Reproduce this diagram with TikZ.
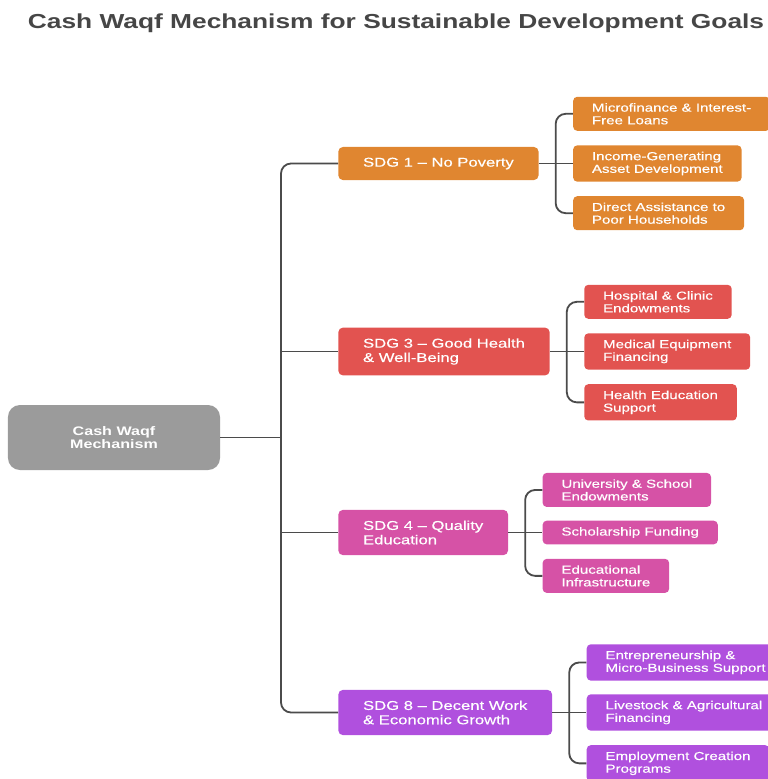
\documentclass[tikz,border=0pt]{standalone}
\usepackage{fontspec}
\setmainfont[FakeStretch=1.3, FakeBold=0.4, BoldFeatures={FakeBold=0}]{Liberation Sans}
\usepackage{xcolor}
\usetikzlibrary{positioning}

\definecolor{rootgray}{RGB}{155,155,155}
\definecolor{sdgone}{RGB}{224,134,48}
\definecolor{sdgthree}{RGB}{226,83,80}
\definecolor{sdgfour}{RGB}{214,82,166}
\definecolor{sdgeight}{RGB}{176,80,222}
\definecolor{linkgray}{RGB}{75,75,75}
\definecolor{titlegray}{RGB}{70,70,70}

\begin{document}
\begin{tikzpicture}[
    x=0.025cm, y=-0.025cm,
    root/.style={fill=rootgray, text=white, font=\bfseries\fontsize{8.8}{9.5}\selectfont, align=center, rounded corners=0.3cm, minimum width=5.3cm, minimum height=1.625cm},
    goal/.style={text=white, font=\fontsize{9.1}{10.2}\selectfont, align=left, rounded corners=0.12cm, inner xsep=0.62cm, inner ysep=0.27cm, anchor=west},
    item/.style={text=white, font=\fontsize{8.25}{9}\selectfont, align=left, rounded corners=0.1cm, inner xsep=0.47cm, inner ysep=0.16cm},
    link/.style={draw=linkgray, line width=1.3pt, rounded corners=0.25cm},
]
    \useasboundingbox (0,0) rectangle (768,779);

    % Title
    \node[font=\bfseries\fontsize{14.4}{17}\selectfont, text=titlegray] (title) at (396,23) {Cash Waqf Mechanism for Sustainable Development Goals};

    % Root
    \node[root] (root) at (114,437.5) {Cash Waqf\\Mechanism};
    \coordinate (trunk) at (281,437.5);

    % Goals
    \node[goal, fill=sdgone] (sdg1) at (338,163.5) {SDG 1 -- No Poverty};
    \node[goal, fill=sdgthree] (sdg3) at (338,351.5) {SDG 3 -- Good Health\\\& Well-Being};
    \node[goal, fill=sdgfour] (sdg4) at (338,532.5) {SDG 4 -- Quality\\Education};
    \node[goal, fill=sdgeight] (sdg8) at (338,712.5) {SDG 8 -- Decent Work\\\& Economic Growth};

    % SDG 1 items
    \node[item, fill=sdgone, right=0.85cm of sdg1] (pov2) {Income-Generating\\Asset Development};
    \node[item, fill=sdgone, above=0.35cm of pov2.north west, anchor=south west] (pov1) {Microfinance \& Interest-\\Free Loans};
    \node[item, fill=sdgone, below=0.35cm of pov2.south west, anchor=north west] (pov3) {Direct Assistance to\\Poor Households};

    % SDG 3 items
    \node[item, fill=sdgthree, right=0.85cm of sdg3] (hea2) {Medical Equipment\\Financing};
    \node[item, fill=sdgthree, above=0.35cm of hea2.north west, anchor=south west] (hea1) {Hospital \& Clinic\\Endowments};
    \node[item, fill=sdgthree, below=0.35cm of hea2.south west, anchor=north west] (hea3) {Health Education\\Support};

    % SDG 4 items
    \node[item, fill=sdgfour, right=0.85cm of sdg4] (edu2) {Scholarship Funding};
    \node[item, fill=sdgfour, above=0.33cm of edu2.north west, anchor=south west] (edu1) {University \& School\\Endowments};
    \node[item, fill=sdgfour, below=0.35cm of edu2.south west, anchor=north west] (edu3) {Educational\\Infrastructure};

    % SDG 8 items
    \node[item, fill=sdgeight, right=0.85cm of sdg8] (wrk2) {Livestock \& Agricultural\\Financing};
    \node[item, fill=sdgeight, above=0.33cm of wrk2.north west, anchor=south west] (wrk1) {Entrepreneurship \&\\Micro-Business Support};
    \node[item, fill=sdgeight, below=0.35cm of wrk2.south west, anchor=north west] (wrk3) {Employment Creation\\Programs};

    % Forks
    \coordinate[right=0.42cm of sdg1] (fork1);
    \coordinate[right=0.42cm of sdg3] (fork3);
    \coordinate[right=0.42cm of sdg4] (fork4);
    \coordinate[right=0.42cm of sdg8] (fork8);

    % Root to goals
    \draw[link] (root) -- (trunk);
    \draw[link] (sdg1.west) -| (trunk) |- (sdg8.west);
    \draw[link] (trunk |- sdg3.west) -- (sdg3.west);
    \draw[link] (trunk |- sdg4.west) -- (sdg4.west);

    % Goals to items
    \draw[link] (sdg1) -- (pov2);
    \draw[link] (pov1.west) -| (fork1) |- (pov3.west);
    \draw[link] (sdg3) -- (hea2);
    \draw[link] (hea1.west) -| (fork3) |- (hea3.west);
    \draw[link] (sdg4) -- (edu2);
    \draw[link] (edu1.west) -| (fork4) |- (edu3.west);
    \draw[link] (sdg8) -- (wrk2);
    \draw[link] (wrk1.west) -| (fork8) |- (wrk3.west);
\end{tikzpicture}
\end{document}
